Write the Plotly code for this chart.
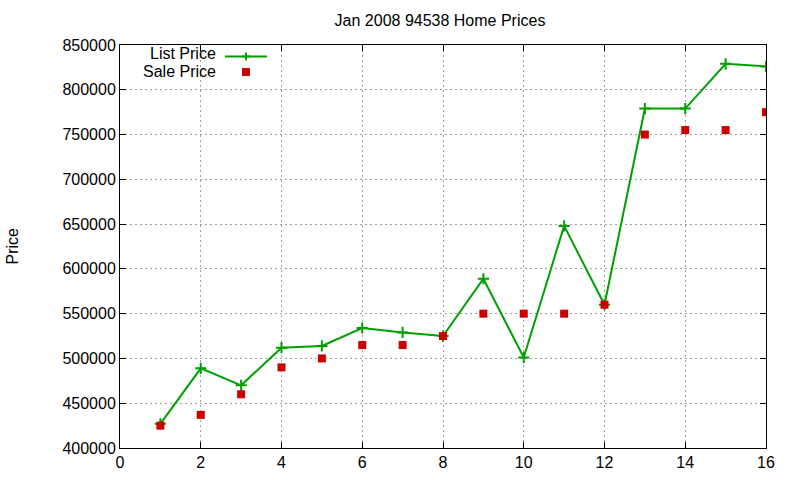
import plotly.graph_objects as go

months = list(range(1, 17))
list_price = [427000, 489000, 470000, 512000, 514000, 534000, 529000, 525000,
              589000, 501000, 648000, 560000, 779000, 779000, 829000, 826000]
sale_price = [425000, 437000, 460000, 490000, 500000, 515000, 515000, 525000,
              550000, 550000, 550000, 560000, 750000, 755000, 755000, 775000]
x_ticks = list(range(0, 17, 2))
y_ticks = list(range(400000, 850001, 50000))

W, H = 800, 480
L, R, T, B = 120, 34, 45, 32
PW, PH = W - L - R, H - T - B
GREEN = "#00a000"
RED = "#cc0000"
FONT = "Liberation Sans, Arial, sans-serif"

def px(xp):
    return (xp - L) / PW

def py(yp):
    return 1 - (yp - T) / PH

fig = go.Figure()
fig.add_trace(go.Scatter(
    x=months, y=list_price, mode="lines+markers", name="List Price",
    line=dict(color=GREEN, width=2),
    marker=dict(symbol="cross-thin", size=8, line=dict(color=GREEN, width=2)),
    showlegend=False,
))
fig.add_trace(go.Scatter(
    x=months, y=sale_price, mode="markers", name="Sale Price",
    marker=dict(symbol="square", size=8, color=RED),
    showlegend=False,
))

axis_common = dict(
    showline=True, linecolor="black", linewidth=1, mirror="ticks",
    ticks="inside", ticklen=6, tickcolor="black", tickwidth=1,
    showgrid=True, gridcolor="#a0a0a0", griddash="2px,3px", gridwidth=1,
    zeroline=False, tickfont=dict(family=FONT, size=16, color="black"),
)
fig.update_xaxes(range=[0, 16], tickvals=x_ticks, **axis_common)
fig.update_yaxes(range=[400000, 850000], tickvals=y_ticks, tickformat="d", **axis_common)

shapes = [
    dict(type="line", xref="paper", yref="paper", x0=px(225), x1=px(267),
         y0=py(56.5), y1=py(56.5), line=dict(color=GREEN, width=2)),
    dict(type="line", xref="paper", yref="paper", x0=px(242), x1=px(250),
         y0=py(56.5), y1=py(56.5), line=dict(color=GREEN, width=2)),
    dict(type="line", xref="paper", yref="paper", x0=px(246), x1=px(246),
         y0=py(52.5), y1=py(60.5), line=dict(color=GREEN, width=2)),
    dict(type="rect", xref="paper", yref="paper", x0=px(242), x1=px(250),
         y0=py(68), y1=py(76), fillcolor=RED, line=dict(width=0)),
]

annotations = [
    dict(text="List Price", xref="paper", yref="paper", x=px(217), y=py(54),
         xanchor="right", yanchor="middle", showarrow=False, borderpad=0,
         font=dict(family=FONT, size=16, color="black")),
    dict(text="Sale Price", xref="paper", yref="paper", x=px(217), y=py(72),
         xanchor="right", yanchor="middle", showarrow=False, borderpad=0,
         font=dict(family=FONT, size=16, color="black")),
    dict(text="Price", xref="paper", yref="paper", x=px(12), y=0.5,
         xanchor="center", yanchor="middle", textangle=-90, showarrow=False,
         font=dict(family=FONT, size=16, color="black")),
]

fig.update_layout(
    width=W, height=H,
    margin=dict(l=L, r=R, t=T, b=B, autoexpand=False),
    paper_bgcolor="white", plot_bgcolor="white",
    title=dict(text="Jan 2008 94538 Home Prices", xref="container", x=440 / W,
               xanchor="center", y=1 - 20 / H, yanchor="middle",
               font=dict(family=FONT, size=16, color="black")),
    shapes=shapes, annotations=annotations,
    font=dict(family=FONT, size=16, color="black"),
)

fig.write_html("out.html")
